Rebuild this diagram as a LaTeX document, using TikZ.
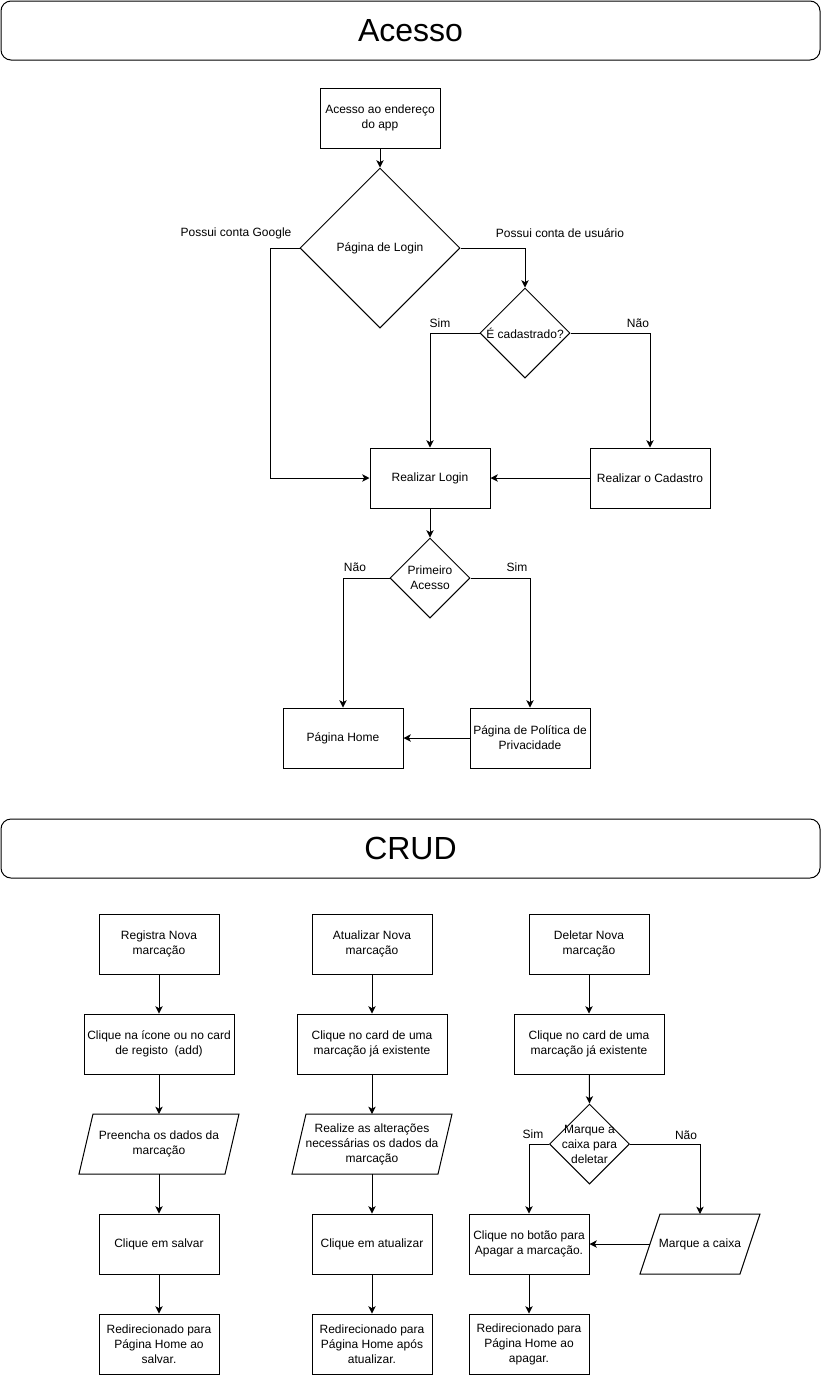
\documentclass[tikz,border=0pt]{standalone}
\usepackage{fontspec}
\setmainfont{Liberation Sans}
\usetikzlibrary{shapes.geometric,arrows.meta}
\begin{document}
\begin{tikzpicture}[x=0.75pt,y=-0.75pt,
  every node/.style={font=\fontsize{9pt}{11.25pt}\selectfont, text=black},
  box/.style={draw, line width=0.75pt, minimum width=90pt, minimum height=45pt, inner sep=0pt, align=center},
  wide/.style={box, minimum width=112.5pt},
  dia/.style={draw, diamond, line width=0.75pt, inner sep=0pt, aspect=1},
  para/.style={inner sep=0pt, outer sep=0pt, minimum height=45pt, align=center},
  pline/.style={line width=0.75pt},
  lbl/.style={inner sep=0pt, align=center},
  arr/.style={line width=0.75pt, -{Stealth[length=5.5pt,width=5.5pt,inset=1.5pt]}},
  header/.style={draw, line width=0.75pt, rounded corners=7.5pt, minimum width=614.25pt, minimum height=44.25pt, inner sep=0pt, font=\fontsize{24pt}{28pt}\selectfont}
]
\useasboundingbox (0,0) rectangle (821,1375);

% ---------- Acesso ----------
\node[header] (H1) at (410.5,30.5) {Acesso};

\node[box] (A) at (380,118) {Acesso ao endereço\\do app};
\node[dia, minimum size=120pt] (L) at (380,248) {};
\node[lbl] (Lt) at (L) {Página de Login};
\node[dia, minimum size=67.5pt] (C) at (525,333) {};
\node[lbl] (Ct) at (C) {É cadastrado?};
\node[box] (RL) at (430,478) {Realizar Login};
\node[box] (RC) at (650,478) {Realizar o Cadastro};
\node[dia, minimum size=60pt] (P) at (430,578) {};
\node[lbl] (Pt) at (P) {Primeiro\\Acesso};
\node[box] (HM) at (343,738) {Página Home};
\node[box] (PP) at (530,738) {Página de Política de\\Privacidade};

\coordinate (g) at (270,248);

\draw[arr] (A) -- (L.north);
\draw[arr] (L.west) -- (g) |- (RL.west);
\draw[arr] (L.east) -| (C.north);
\draw[arr] (C.west) -| (RL.north);
\draw[arr] (C.east) -| (RC.north);
\draw[arr] (RC.west) -- (RL.east);
\draw[arr] (RL.south) -- (P.north);
\draw[arr] (P.west) -| (HM.north);
\draw[arr] (P.east) -| (PP.north);
\draw[arr] (PP.west) -- (HM.east);

\node[lbl] (l1) at (236,233) {Possui conta Google};
\node[lbl] (l2) at (560,233) {Possui conta de usuário};
\node[lbl] (l3) at (440,323) {Sim};
\node[lbl] (l4) at (638,323) {Não};
\node[lbl] (l5) at (355,567) {Não};
\node[lbl] (l6) at (517,567) {Sim};

% ---------- CRUD ----------
\node[header] (H2) at (410.5,848.5) {CRUD};

% column 1
\node[box] (R1) at (159,944) {Registra Nova\\marcação};
\node[wide] (R2) at (159,1044) {Clique na ícone ou no card\\de registo\ \ (add)};
\node[para, minimum width=120pt] (R3) at (159,1144) {Preencha os dados da\\marcação};
\draw[pline] ([xshift=10.5pt]R3.north west) -- (R3.north east) -- ([xshift=-10.5pt]R3.south east) -- (R3.south west) -- cycle;
\node[box] (R4) at (159,1244) {Clique em salvar};
\node[box] (R5) at (159,1344) {Redirecionado para\\Página Home ao\\salvar.};
\draw[arr] (R1) -- (R2);
\draw[arr] (R2) -- (R3);
\draw[arr] (R3) -- (R4);
\draw[arr] (R4) -- (R5);

% column 2
\node[box] (U1) at (372,944) {Atualizar Nova\\marcação};
\node[wide] (U2) at (372,1044) {Clique no card de uma\\marcação já existente};
\node[para, minimum width=120pt] (U3) at (372,1144) {Realize as alterações\\necessárias os dados da\\marcação};
\draw[pline] ([xshift=10.5pt]U3.north west) -- (U3.north east) -- ([xshift=-10.5pt]U3.south east) -- (U3.south west) -- cycle;
\node[box] (U4) at (372,1244) {Clique em atualizar};
\node[box] (U5) at (372,1344) {Redirecionado para\\Página Home após\\atualizar.};
\draw[arr] (U1) -- (U2);
\draw[arr] (U2) -- (U3);
\draw[arr] (U3) -- (U4);
\draw[arr] (U4) -- (U5);

% column 3
\node[box] (D1) at (589,944) {Deletar Nova\\marcação};
\node[wide] (D2) at (589,1044) {Clique no card de uma\\marcação já existente};
\node[dia, minimum size=60pt] (D3) at (589.5,1144) {};
\node[lbl] (D3t) at (D3) {Marque a\\caixa para\\deletar};
\node[box] (CB) at (529,1244) {Clique no botão para\\Apagar a marcação.};
\node[para, minimum width=90pt] (MC) at (700,1244) {Marque a caixa};
\draw[pline] ([xshift=15pt]MC.north west) -- (MC.north east) -- ([xshift=-15pt]MC.south east) -- (MC.south west) -- cycle;
\node[box] (DR) at (529,1344) {Redirecionado para\\Página Home ao\\apagar.};
\draw[arr] (D1) -- (D2);
\draw[arr] (D2) -- (D3.north);
\draw[arr] (D3.west) -| (CB.north);
\draw[arr] (D3.east) -| (MC.north);
\draw[arr] ([xshift=7.5pt]MC.west) -- (CB.east);
\draw[arr] (CB) -- (DR);

\node[lbl] (s1) at (533,1134) {Sim};
\node[lbl] (s2) at (686,1135) {Não};
\end{tikzpicture}
\end{document}
